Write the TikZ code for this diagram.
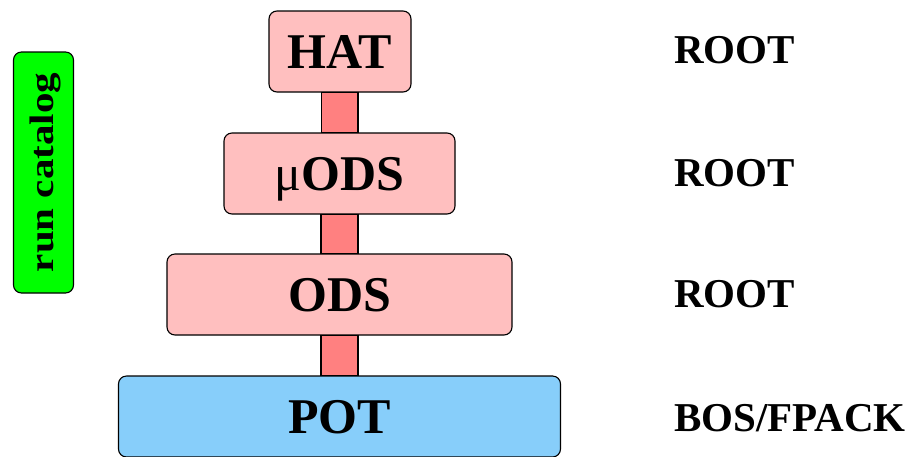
\documentclass[tikz,border=0pt]{standalone}
\usepackage{fontspec}
\setmainfont{Liberation Serif}
\usetikzlibrary{calc}
\definecolor{boxpink}{HTML}{FFBFBF}
\definecolor{barred}{HTML}{FF8080}
\definecolor{potblue}{HTML}{87CEFA}
\definecolor{catgreen}{HTML}{00FF00}
\tikzset{
	layer/.style={draw=black, line width=1.1pt, rounded corners=8pt, fill=boxpink,
		minimum height=81pt, inner sep=0pt, text height=33pt, text depth=0pt,
		font=\fontsize{50}{56}\selectfont\bfseries},
	fmt/.style={anchor=base west, inner sep=0pt, font=\fontsize{41}{46}\selectfont\bfseries},
	bar/.style={draw=black, line width=1.1pt, fill=barred}
}
\begin{document}
\begin{tikzpicture}[x=1pt, y=-1pt]
	\useasboundingbox (0,0) rectangle (909,456);
	%layers
	\node[layer, minimum width=142pt] (hat) at (340,51.5) {HAT};
	\node[layer, minimum width=231pt] (muods) at (339.5,173.5) {{\mdseries μ}ODS};
	\node[layer, minimum width=345pt] (ods) at (339.5,294.5) {ODS};
	\node[layer, minimum width=442pt, fill=potblue] (pot) at (339.5,416.5) {POT};
	%bars
	\draw[bar] ($(hat.south)+(-18.5,0)$) rectangle ($(muods.north)+(18.5,0)$);
	\draw[bar] ($(muods.south)+(-18.5,0)$) rectangle ($(ods.north)+(18.5,0)$);
	\draw[bar] ($(ods.south)+(-18.5,0)$) rectangle ($(pot.north)+(18.5,0)$);
	%catalog
	\node[layer, fill=catgreen, rotate=90, minimum width=241pt, minimum height=60pt,
		font=\fontsize{41}{46}\selectfont\bfseries, text height=23pt, text depth=3pt]
		(catalog) at (43.5,172.5) {\scalebox{1}[0.83]{run catalog}};
	%formats
	\node[fmt] (fhat) at (674,63) {ROOT};
	\node[fmt] (fmuods) at (674,186) {ROOT};
	\node[fmt] (fods) at (674,307) {ROOT};
	\node[fmt] (fpot) at (674,431) {BOS/FPACK};
\end{tikzpicture}
\end{document}
